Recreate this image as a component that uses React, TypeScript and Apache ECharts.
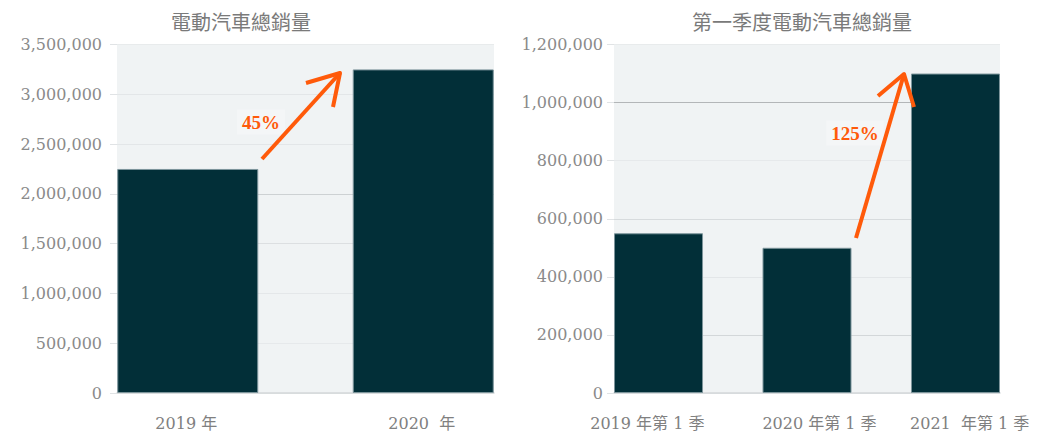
import React, { useEffect, useRef } from "react";
import * as echarts from "echarts";

// ---- data ----
const titleTotal = "電動汽車總銷量";
const titleQ1 = "第一季度電動汽車總銷量";
const yearCategories = ["2019 年", "2020  年"];
const yearSales = [2250000, 3250000];
const quarterCategories = ["2019 年第 1 季", "2020 年第 1 季", "2021  年第 1 季"];
const quarterSales = [550000, 500000, 1100000];
const growthTotal = "45%";
const growthQ1 = "125%";
const totalAxisMax = 3500000;
const totalAxisStep = 500000;
const q1AxisMax = 1200000;
const q1AxisStep = 200000;

const FONT = "'DejaVu Serif', 'Noto Sans CJK TC', serif";
const CJK = "'Noto Sans CJK TC', 'DejaVu Serif', serif";
const PCT_FONT = "'Liberation Serif', 'DejaVu Serif', serif";
const BAR = "#022f38";
const ORANGE = "#ff5a0a";

function makeBars(values: number[], idx: number, width: number, gap: string) {
  return values.map((_, i) => ({
    type: "bar",
    xAxisIndex: idx,
    yAxisIndex: idx,
    barWidth: width,
    barGap: gap,
    itemStyle: { color: BAR, borderColor: "#7d959b", borderWidth: 1 },
    data: values.map((v, j) => (j === i ? v : "-")),
  }));
}

function catAxis(idx: number, cats: string[], pads: number[][]) {
  const rich: any = {};
  pads.forEach((p, i) => {
    rich["s" + i] = { padding: p, fontSize: 16, color: "#808080", fontFamily: FONT };
  });
  return {
    type: "category",
    gridIndex: idx,
    data: cats,
    axisTick: { show: false },
    axisLine: { show: true, lineStyle: { color: "#d3d7d9", width: 1.5 } },
    axisLabel: {
      interval: 0,
      hideOverlap: false,
      margin: 22,
      fontSize: 16,
      color: "#808080",
      fontFamily: FONT,
      formatter: (v: string, i: number) => `{s${i}|${v}}`,
      rich,
    },
  };
}

function valAxis(idx: number, max: number, step: number, margin: number, colors: string[]) {
  return {
    type: "value",
    gridIndex: idx,
    min: 0,
    max,
    interval: step,
    axisLine: { show: false },
    axisTick: { show: true, length: 7, lineStyle: { color: "#e0e3e5" } },
    splitLine: { show: true, lineStyle: { color: colors, width: 1 } },
    axisLabel: {
      margin,
      fontSize: 16,
      color: "#8a8a8a",
      fontFamily: FONT,
      formatter: (v: number) => v.toLocaleString("en-US"),
    },
  };
}

function arrow(shaft: number[][], head: number[][]) {
  const style = { stroke: ORANGE, lineWidth: 4, fill: null, lineJoin: "round", lineCap: "butt" };
  return [
    { type: "polyline", shape: { points: shaft }, style, z: 100 },
    { type: "polyline", shape: { points: head }, style, z: 100 },
  ];
}

function pctLabel(text: string, x: number, y: number) {
  return {
    type: "text",
    x,
    y,
    z: 90,
    style: {
      text,
      fontSize: 19,
      fontWeight: "bold",
      fill: ORANGE,
      fontFamily: PCT_FONT,
      textAlign: "center",
      textVerticalAlign: "middle",
      backgroundColor: "#f4f6f7",
      padding: [3, 5],
    },
  };
}

export default function App() {
  const ref = useRef<HTMLDivElement>(null);
  useEffect(() => {
    if (!ref.current) return;
    const chart = echarts.init(ref.current, undefined, { renderer: "svg" });
    const option: any = {
      animation: false,
      backgroundColor: "#ffffff",
      grid: [
        { left: 117, right: 553, top: 44.5, bottom: 41, show: true, backgroundColor: "#f0f3f4", borderWidth: 0 },
        { left: 614, right: 47, top: 44.5, bottom: 41, show: true, backgroundColor: "#f0f3f4", borderWidth: 0 },
      ],
      xAxis: [
        catAxis(0, yearCategories, [[0, 50, 0, 0], [0, 0, 0, 44]]),
        catAxis(1, quarterCategories, [[0, 62, 0, 0], [0, 0, 0, 25], [0, 0, 0, 68]]),
      ],
      yAxis: [
        valAxis(0, totalAxisMax, totalAxisStep, 15, ["#e6e9eb", "#e6e9eb", "#e4e7e9", "#dcdfe1", "#cdd1d3", "#e3e6e8", "#e3e6e8", "#e8ebec"]),
        valAxis(1, q1AxisMax, q1AxisStep, 11, ["#e3e6e8", "#d3d7d9", "#e3e6e8", "#d7dbdd", "#e6e9eb", "#b3b6b8", "#e8ebec"]),
      ],
      series: [
        ...makeBars(yearSales, 0, 141, "-66.67%"),
        ...makeBars(quarterSales, 1, 89, "-77.75%"),
      ],
      graphic: [
        {
          type: "text",
          x: 241,
          y: 21,
          style: { text: titleTotal, fontSize: 20, fill: "#7a7a7a", fontFamily: CJK, textAlign: "center", textVerticalAlign: "middle" },
        },
        {
          type: "text",
          x: 802,
          y: 21,
          style: { text: titleQ1, fontSize: 20, fill: "#7a7a7a", fontFamily: CJK, textAlign: "center", textVerticalAlign: "middle" },
        },
        pctLabel(growthTotal, 261, 122),
        pctLabel(growthQ1, 855, 133),
        ...arrow([[262, 159], [340, 73]], [[306, 83], [340, 73], [333, 107]]),
        ...arrow([[856, 238], [904, 74]], [[878, 96], [904, 74], [914, 107]]),
      ],
    };
    chart.setOption(option);
    return () => chart.dispose();
  }, []);
  return (
    <div
      ref={ref}
      style={{ position: "fixed", left: 0, top: 0, width: 1047, height: 434, background: "#fff" }}
    />
  );
}
